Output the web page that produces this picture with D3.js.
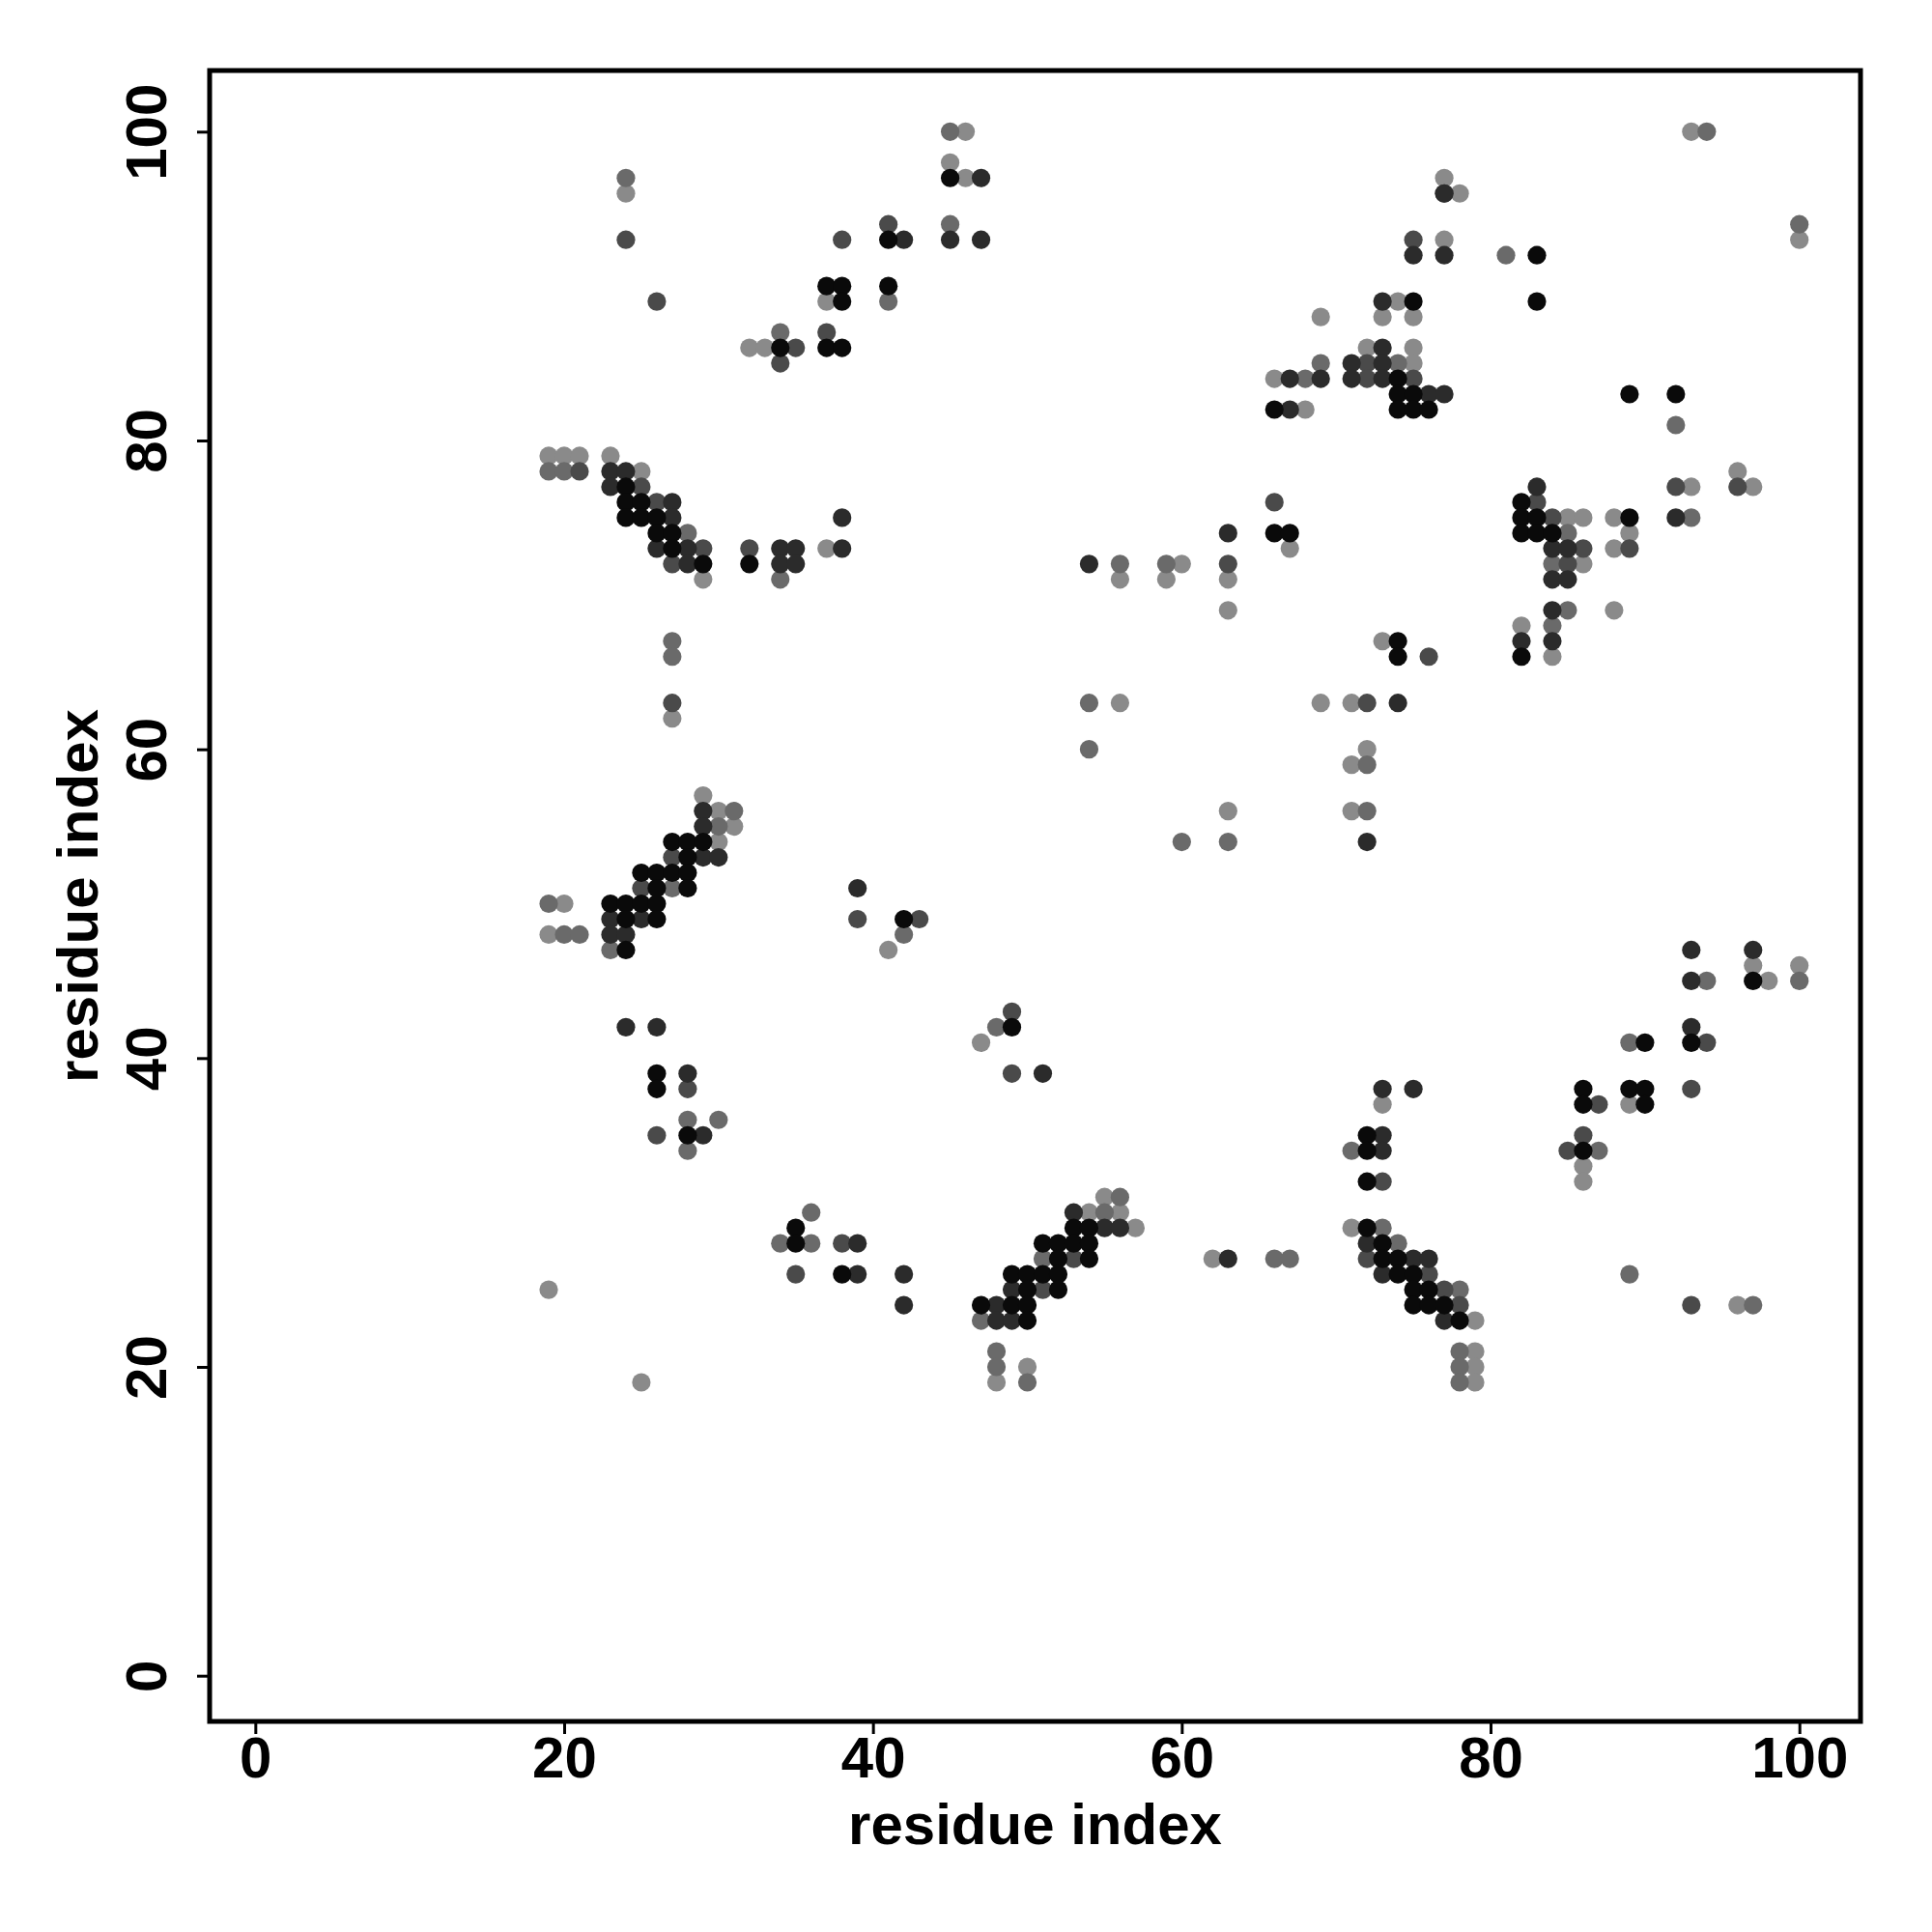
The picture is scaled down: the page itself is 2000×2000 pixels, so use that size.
<!DOCTYPE html>
<html>
<head>
<meta charset="utf-8">
<script src="https://cdn.jsdelivr.net/npm/d3@7/dist/d3.min.js"></script>
<style>
  html, body { margin: 0; padding: 0; background: #fff; }
  svg { display: block; }
</style>
</head>
<body>
<div id="chart"></div>
<script>
  "use strict";

  // contact pairs [residue i, residue j], grouped by shade (0 = strongest)
  var level0 = [
    [45,97],[41,93],[37,90],[38,90],[38,89],[41,90],[34,86],[37,86],[38,86],
    [24,77],[24,76],[25,76],[24,75],[25,75],[26,75],[26,74],[27,74],[27,73],[29,72],[32,72],
    [27,54],[28,54],[29,54],[28,53],[25,52],[26,52],[27,52],[28,52],[26,51],[28,51],
    [23,50],[24,50],[25,50],[26,50],[24,49],[26,49],[24,47],[42,49],
    [26,39],[26,38],[28,35],[35,29],[35,28],[38,26],[49,42],
    [53,29],[54,29],[51,28],[52,28],[53,28],[54,28],[52,27],[54,27],
    [49,26],[50,26],[51,26],[52,26],[50,25],[52,25],[47,24],[49,24],[50,24],[50,23],
    [72,35],[72,34],[72,32],[72,29],[73,28],[73,27],[74,27],[74,26],[75,26],
    [75,25],[76,25],[75,24],[76,24],[77,24],[78,23],
    [97,45],[90,41],[93,41],[86,38],[89,38],[90,38],[86,37],[90,37],[86,34],
    [75,89],[74,84],[74,83],[75,83],[66,82],[74,82],[75,82],[76,82],[66,74],[67,74],
    [83,92],[83,89],[89,83],[92,83],[89,75],[82,76],[82,75],[83,75],[82,74],[83,74],[84,74],
    [74,67],[82,66],[74,66]
  ];
  var level1 = [
    [47,97],[45,93],[47,93],[42,93],
    [23,78],[24,78],[23,77],[27,76],[27,75],[38,75],[26,73],[28,73],[34,73],[35,73],[38,73],
    [28,72],[34,72],[35,72],
    [29,56],[29,55],[29,53],[30,53],[23,49],[25,49],[23,48],[24,48],[39,51],
    [24,42],[26,42],[28,39],[29,35],[39,28],[39,26],[42,26],[42,24],
    [51,39],[53,30],[55,29],[56,29],[49,25],[48,24],[48,23],[49,23],
    [63,27],
    [73,38],[75,38],[73,35],[73,34],[72,28],[75,27],[76,27],[73,26],[77,23],
    [93,47],[97,47],[93,45],[93,42],
    [73,89],[73,86],[71,85],[73,85],[67,84],[69,84],[71,84],[73,84],[76,83],[77,83],[67,82],
    [63,74],[77,96],[75,92],[77,92],[92,75],[83,77],
    [84,73],[85,73],[84,71],[85,71],[84,69],[82,67],[84,67],[74,63],
    [54,72],[72,54]
  ];
  var level2 = [
    [24,93],[26,89],[38,93],[41,94],[35,86],[34,85],[37,87],
    [21,78],[25,77],[26,76],[29,73],[32,73],[27,72],[27,63],
    [27,53],[25,51],[39,49],[43,49],
    [28,38],[26,35],[38,28],[35,26],[49,43],[49,39],[53,27],[51,25],
    [73,32],[72,27],[76,26],[77,25],[78,24],
    [94,41],[93,38],[87,37],[86,35],[85,34],[93,24],
    [72,85],[72,84],[75,84],[66,76],[77,96],[75,93],[92,77],[96,77],
    [83,76],[84,75],[86,73],[89,73],[85,72],[76,66],[63,72],[72,63]
  ];
  var level3 = [
    [45,100],[45,94],[24,97],[41,89],[34,87],
    [19,78],[20,78],[28,74],[34,71],[27,67],[27,66],
    [31,56],[30,55],[27,51],[19,50],[20,48],[21,48],[23,47],[42,48],
    [28,36],[30,36],[28,34],[36,30],[34,28],[36,28],
    [48,42],[56,31],[55,30],[51,27],[47,23],[48,21],[48,20],[50,19],
    [66,27],[67,27],
    [71,34],[73,29],[74,28],[78,25],[78,21],[78,20],[78,19],
    [94,45],[100,45],[89,41],[87,34],[89,26],[97,24],
    [69,85],[74,85],[68,84],[81,92],[100,94],[94,100],[92,81],[93,75],[85,74],
    [84,72],[85,69],[84,68],
    [56,72],[59,72],[54,63],[54,60],[72,59],[72,56],[60,54],[63,54]
  ];
  var level4 = [
    [46,100],[45,98],[46,97],[24,96],[37,89],[32,86],[33,86],
    [19,79],[20,79],[21,79],[23,79],[25,78],[37,73],[29,71],[27,62],[29,57],
    [30,56],[31,55],[30,54],[20,50],[19,48],[41,47],
    [19,25],[25,19],[47,41],
    [55,31],[54,30],[56,30],[57,29],[50,20],[48,19],[62,27],
    [73,37],[71,29],[79,23],[79,21],[79,20],[79,19],
    [97,46],[100,46],[98,45],[89,37],[86,33],[86,32],[96,24],
    [69,88],[73,88],[74,89],[75,88],[72,86],[75,86],[75,85],[66,84],[68,82],[67,73],
    [77,97],[78,96],[77,93],[100,93],[93,100],[96,78],[93,77],[97,77],
    [88,75],[89,74],[85,75],[86,75],[88,73],[86,72],[88,69],[82,68],[84,66],[73,67],
    [60,72],[56,71],[59,71],[63,71],[63,69],[56,63],[69,63],[71,63],
    [72,60],[71,59],[63,56],[71,56]
  ];
  var levelColors = ["#0a0a0a", "#2b2b2b", "#4a4a4a", "#6a6a6a", "#8a8a8a"];
  var tickValues = [0, 20, 40, 60, 80, 100];
  var axisTitle = "residue index";

  var width = 2000, height = 2000;
  var box = { left: 217, right: 1926, top: 73, bottom: 1782 };
  var font = "'Liberation Sans', Arial, Helvetica, sans-serif";

  var svg = d3.select("#chart").append("svg")
    .attr("width", width)
    .attr("height", height);

  // R-style 4% expansion of the 1..100 data range
  var x = d3.scaleLinear().domain([-2.96, 103.96]).range([box.left, box.right]);
  var y = d3.scaleLinear().domain([-2.96, 103.96]).range([box.bottom, box.top]);

  var points = [];
  [level4, level3, level2, level1, level0].forEach(function (arr, i) {
    var lvl = 4 - i;
    arr.forEach(function (p) {
      points.push({ i: p[0], j: p[1], level: lvl });
    });
  });

  svg.append("g")
    .selectAll("circle")
    .data(points)
    .enter().append("circle")
    .attr("cx", function (d) { return x(d.i); })
    .attr("cy", function (d) { return y(d.j); })
    .attr("r", 9.6)
    .attr("fill", function (d) { return levelColors[d.level]; });

  // axes
  var xAxis = svg.append("g")
    .attr("transform", "translate(0," + box.bottom + ")")
    .call(d3.axisBottom(x).tickValues(tickValues).tickSize(13).tickPadding(8));
  var yAxis = svg.append("g")
    .attr("transform", "translate(" + box.left + ",0)")
    .call(d3.axisLeft(y).tickValues(tickValues).tickSize(13).tickPadding(8));

  [xAxis, yAxis].forEach(function (ax) {
    ax.select(".domain").remove();
    ax.selectAll(".tick line").attr("stroke", "#000").attr("stroke-width", 3);
    ax.selectAll(".tick text")
      .attr("font-family", font)
      .attr("font-size", "60px")
      .attr("font-weight", "bold")
      .attr("fill", "#000");
  });

  xAxis.selectAll(".tick text").attr("dy", null).attr("y", 58);

  yAxis.selectAll(".tick text")
    .attr("x", null).attr("dy", null)
    .attr("text-anchor", "middle")
    .attr("transform", "translate(-45,0) rotate(-90)")
    .attr("y", 0);

  // frame
  svg.append("rect")
    .attr("x", box.left)
    .attr("y", box.top)
    .attr("width", box.right - box.left)
    .attr("height", box.bottom - box.top)
    .attr("fill", "none")
    .attr("stroke", "#000")
    .attr("stroke-width", 5);

  svg.append("text")
    .attr("x", (box.left + box.right) / 2)
    .attr("y", 1909)
    .attr("text-anchor", "middle")
    .attr("font-family", font)
    .attr("font-size", "60px")
    .attr("font-weight", "bold")
    .text(axisTitle);

  svg.append("text")
    .attr("transform", "translate(101," + (box.top + box.bottom) / 2 + ") rotate(-90)")
    .attr("text-anchor", "middle")
    .attr("font-family", font)
    .attr("font-size", "60px")
    .attr("font-weight", "bold")
    .text(axisTitle);
</script>
</body>
</html>
